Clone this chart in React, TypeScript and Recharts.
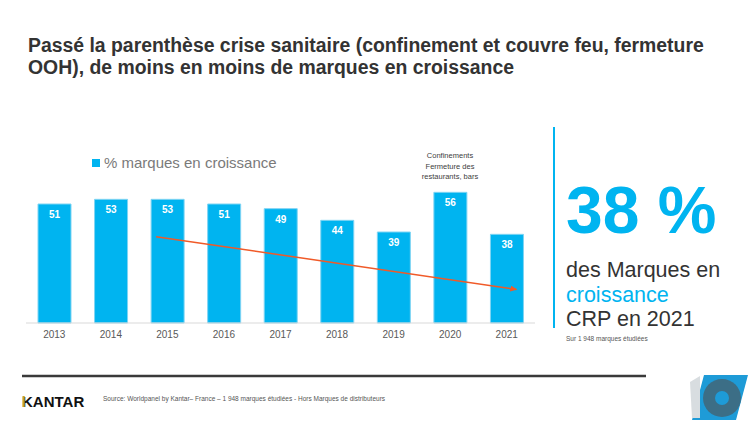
import React from 'react';
import { BarChart, Bar, XAxis, YAxis, LabelList, ReferenceLine } from 'recharts';

const years = ['2013', '2014', '2015', '2016', '2017', '2018', '2019', '2020', '2021'];
const growthShare = [51, 53, 53, 51, 49, 44, 39, 56, 38];
// trend arrow, x in category index units, y in %
const trendX = [1.8, 8.17];
const trendY = [37, 14.4];
const noteLines = ['Confinements', 'Fermeture des', 'restaurants, bars'];

const data = years.map((year, i) => ({ year, idx: i, value: growthShare[i] }));

const BLUE = '#00B4F0';
const ORANGE = '#F05A28';
const FONT = "'Liberation Sans', Arial, sans-serif";

export default function App() {
  return (
    <div style={{ position: 'absolute', left: 0, top: 0, width: 750, height: 422, background: '#fff', fontFamily: FONT, overflow: 'hidden' }}>
      <svg width={750} height={422} style={{ position: 'absolute', left: 0, top: 0 }} fontFamily={FONT}>
        <text x={28} y={52} fontSize={19.4} fontWeight="bold" fill="#333">
          Passé la parenthèse crise sanitaire (confinement et couvre feu, fermeture
        </text>
        <text x={28} y={74} fontSize={19.4} fontWeight="bold" fill="#333">
          OOH), de moins en moins de marques en croissance
        </text>

        {/* legend */}
        <rect x={92} y={159} width={8} height={8} fill={BLUE} />
        <text x={104} y={168} fontSize={15} fill="#7a7a7a">% marques en croissance</text>

        {/* annotation above 2020 */}
        {noteLines.map((t, i) => (
          <text key={t} x={450} y={158 + i * 10.5} fontSize={7.5} fill="#404040" textAnchor="middle">{t}</text>
        ))}

        {/* right panel */}
        <line x1={554} y1={127} x2={554} y2={328} stroke={BLUE} strokeWidth={2} />
        <text x={566} y={233} fontSize={66} fontWeight="bold" fill={BLUE}>38 %</text>
        <text x={566} y={277} fontSize={21.5} fill="#333">des Marques en</text>
        <text x={566} y={302} fontSize={21.5} fill={BLUE}>croissance</text>
        <text x={566} y={326} fontSize={21.5} fill="#333">CRP en 2021</text>
        <text x={566} y={341} fontSize={6.5} fill="#555">Sur 1 948 marques étudiées</text>

        {/* footer */}
        <line x1={22} y1={376} x2={646} y2={376} stroke="#3a3a3a" strokeWidth={2.5} />
        <text x={22} y={407} fontSize={15} fontWeight="bold" fill="#111">KANTAR</text>
        <rect x={22.5} y={396} width={2.2} height={11} fill="#C9A227" />
        <text x={103} y={401} fontSize={6.5} fill="#555">
          Source: Worldpanel by Kantar– France – 1 948 marques étudiées - Hors Marques de distributeurs
        </text>

        {/* 15 badge */}
        <polygon points="704,375 748,375 736,420 692,420" fill="#1E9BD7" />
        <circle cx={722} cy={398} r={19} fill="#3C6E86" />
        <circle cx={722} cy={398} r={7} fill="#1E9BD7" />
        <polygon points="690,382 700,376 700,418 692,418" fill="#d8dde0" />
      </svg>

      <div style={{ position: 'absolute', left: 0, top: 0 }}>
        <BarChart
          width={560}
          height={350}
          data={data}
          margin={{ top: 183, right: 25, left: 26, bottom: 7 }}
          barSize={33}
          style={{ fontFamily: FONT }}
        >
          <defs>
            <marker id="trendArrow" markerWidth={7} markerHeight={6} refX={6} refY={3} orient="auto" markerUnits="userSpaceOnUse">
              <path d="M0,0 L7,3 L0,6 z" fill={ORANGE} />
            </marker>
          </defs>
          <XAxis
            dataKey="year"
            height={20}
            tickLine={false}
            axisLine={{ stroke: '#d9d9d9' }}
            tick={{ fill: '#595959', fontSize: 10 }}
            interval={0}
          />
          <XAxis xAxisId="trend" dataKey="idx" type="number" domain={[-0.5, 8.5]} hide allowDataOverflow />
          <YAxis hide domain={[0, 60]} />
          <Bar dataKey="value" fill={BLUE} stroke="#7fd4f3" strokeWidth={1} isAnimationActive={false}>
            <LabelList dataKey="value" position="insideTop" offset={7} fill="#fff" fontSize={10} fontWeight="bold" />
          </Bar>
          <ReferenceLine
            xAxisId="trend"
            ifOverflow="visible"
            segment={[
              { x: trendX[0], y: trendY[0] },
              { x: trendX[1], y: trendY[1] },
            ]}
            stroke={ORANGE}
            strokeWidth={1.5}
            markerEnd="url(#trendArrow)"
          />
        </BarChart>
      </div>
    </div>
  );
}
